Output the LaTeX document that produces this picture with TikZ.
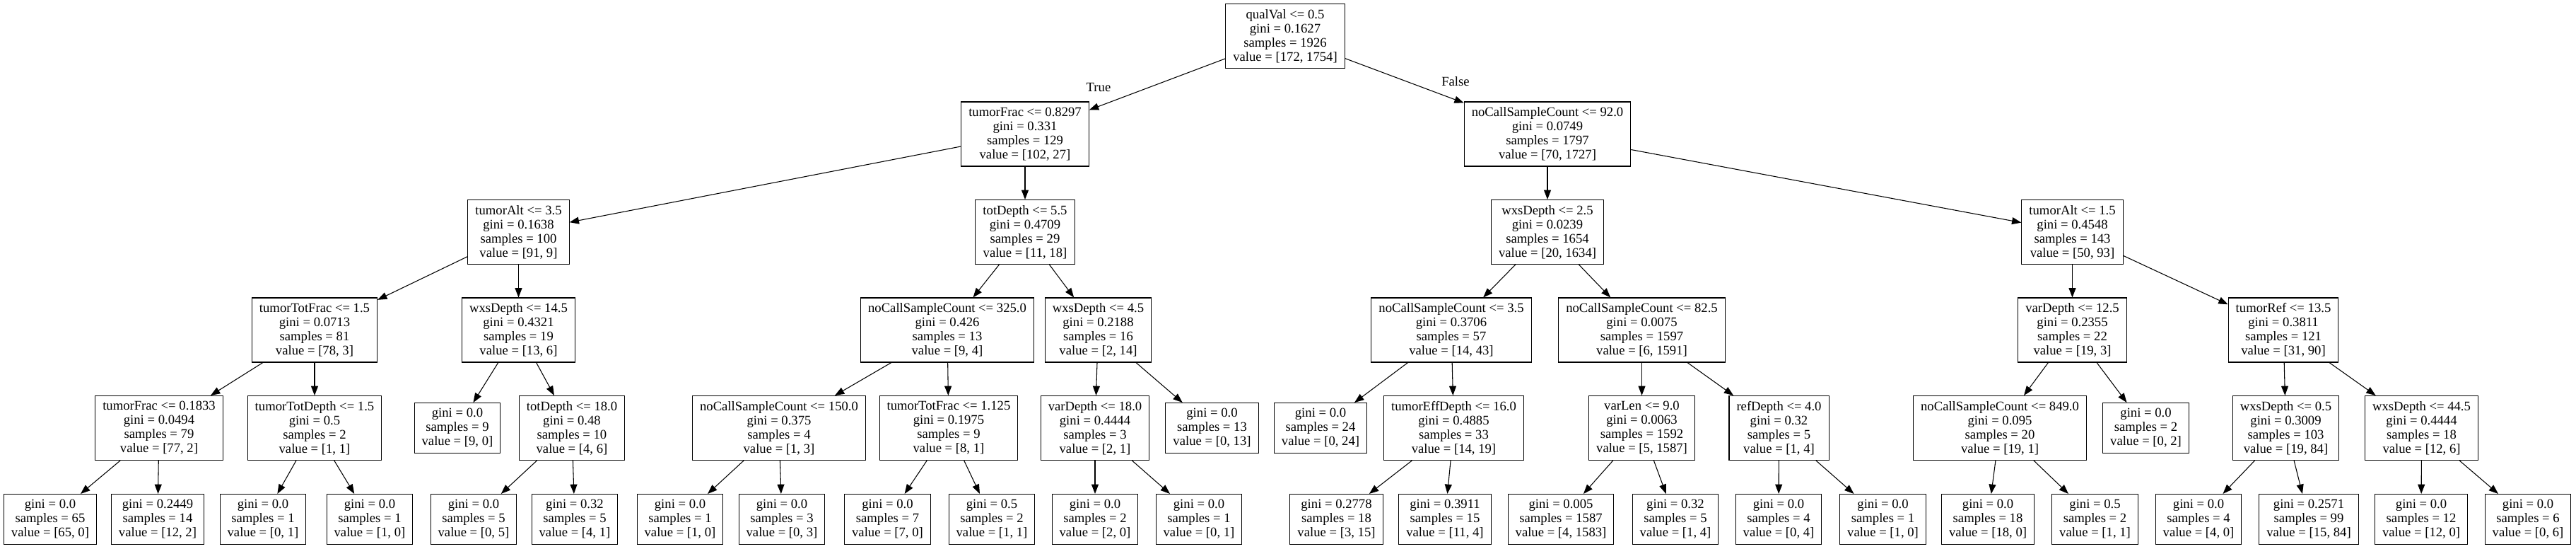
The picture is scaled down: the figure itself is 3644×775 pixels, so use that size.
\documentclass[tikz,border=0pt]{standalone}
\usepackage{fontspec}
\setmainfont{Liberation Serif}
\usetikzlibrary{arrows.meta}

\begin{document}
\begin{tikzpicture}[x=0.75pt, y=-0.75pt,
		split/.style={draw, line width=0.8pt, align=center, inner xsep=7.9pt, inner ysep=2pt, minimum height=68.25pt, font=\fontsize{14pt}{15pt}\selectfont},
		leaf/.style={split, minimum height=53.25pt},
		lbl/.style={inner sep=0pt, font=\fontsize{14pt}{15pt}\selectfont},
		arr/.style={line width=0.8pt, -{Triangle[length=10pt, width=7.5pt]}}]
			\useasboundingbox (0, 0) rectangle (3644, 775);

			\draw (1818, 51) 	node[split] 	(root) 		{qualVal <= 0.5\\gini = 0.1627\\samples = 1926\\value = [172, 1754]};

			\draw (1450, 189.5) 	node[split] 	(tfrac) 	{tumorFrac <= 0.8297\\gini = 0.331\\samples = 129\\value = [102, 27]};
			\draw (2189, 189.5) 	node[split] 	(ncall92) 	{noCallSampleCount <= 92.0\\gini = 0.0749\\samples = 1797\\value = [70, 1727]};

			\draw (733.5, 328) 	node[split] 	(talt35) 	{tumorAlt <= 3.5\\gini = 0.1638\\samples = 100\\value = [91, 9]};
			\draw (1450, 328) 	node[split] 	(tdep55) 	{totDepth <= 5.5\\gini = 0.4709\\samples = 29\\value = [11, 18]};
			\draw (2189, 328) 	node[split] 	(wxs25) 	{wxsDepth <= 2.5\\gini = 0.0239\\samples = 1654\\value = [20, 1634]};
			\draw (2931.5, 328) 	node[split] 	(talt15) 	{tumorAlt <= 1.5\\gini = 0.4548\\samples = 143\\value = [50, 93]};

			\draw (445, 466.5) 	node[split] 	(ttfrac15) 	{tumorTotFrac <= 1.5\\gini = 0.0713\\samples = 81\\value = [78, 3]};
			\draw (733.5, 466.5) 	node[split] 	(wxs145) 	{wxsDepth <= 14.5\\gini = 0.4321\\samples = 19\\value = [13, 6]};
			\draw (1340, 466.5) 	node[split] 	(ncall325) 	{noCallSampleCount <= 325.0\\gini = 0.426\\samples = 13\\value = [9, 4]};
			\draw (1553.5, 466.5) 	node[split] 	(wxs45) 	{wxsDepth <= 4.5\\gini = 0.2188\\samples = 16\\value = [2, 14]};
			\draw (2053, 466.5) 	node[split] 	(ncall35) 	{noCallSampleCount <= 3.5\\gini = 0.3706\\samples = 57\\value = [14, 43]};
			\draw (2322.5, 466.5) 	node[split] 	(ncall825) 	{noCallSampleCount <= 82.5\\gini = 0.0075\\samples = 1597\\value = [6, 1591]};
			\draw (2931.5, 466.5) 	node[split] 	(vdep125) 	{varDepth <= 12.5\\gini = 0.2355\\samples = 22\\value = [19, 3]};
			\draw (3230, 466.5) 	node[split] 	(tref135) 	{tumorRef <= 13.5\\gini = 0.3811\\samples = 121\\value = [31, 90]};

			\draw (225, 605) 	node[split] 	(tfrac1833) 	{tumorFrac <= 0.1833\\gini = 0.0494\\samples = 79\\value = [77, 2]};
			\draw (445, 605) 	node[split] 	(ttdep15) 	{tumorTotDepth <= 1.5\\gini = 0.5\\samples = 2\\value = [1, 1]};
			\draw (647, 605) 	node[leaf] 	(leaf9) 	{gini = 0.0\\samples = 9\\value = [9, 0]};
			\draw (809, 605) 	node[split] 	(tdep18) 	{totDepth <= 18.0\\gini = 0.48\\samples = 10\\value = [4, 6]};
			\draw (1102, 605) 	node[split] 	(ncall150) 	{noCallSampleCount <= 150.0\\gini = 0.375\\samples = 4\\value = [1, 3]};
			\draw (1342, 605) 	node[split] 	(ttfrac1125) 	{tumorTotFrac <= 1.125\\gini = 0.1975\\samples = 9\\value = [8, 1]};
			\draw (1549, 605) 	node[split] 	(vdep18) 	{varDepth <= 18.0\\gini = 0.4444\\samples = 3\\value = [2, 1]};
			\draw (1714.5, 605) 	node[leaf] 	(leaf13) 	{gini = 0.0\\samples = 13\\value = [0, 13]};
			\draw (1868, 605) 	node[leaf] 	(leaf24) 	{gini = 0.0\\samples = 24\\value = [0, 24]};
			\draw (2056.5, 605) 	node[split] 	(tedep16) 	{tumorEffDepth <= 16.0\\gini = 0.4885\\samples = 33\\value = [14, 19]};
			\draw (2322.5, 605) 	node[split] 	(vlen9) 	{varLen <= 9.0\\gini = 0.0063\\samples = 1592\\value = [5, 1587]};
			\draw (2516.5, 605) 	node[split] 	(rdep4) 	{refDepth <= 4.0\\gini = 0.32\\samples = 5\\value = [1, 4]};
			\draw (2829, 605) 	node[split] 	(ncall849) 	{noCallSampleCount <= 849.0\\gini = 0.095\\samples = 20\\value = [19, 1]};
			\draw (3035.5, 605) 	node[leaf] 	(leaf2) 	{gini = 0.0\\samples = 2\\value = [0, 2]};
			\draw (3233.5, 605) 	node[split] 	(wxs05) 	{wxsDepth <= 0.5\\gini = 0.3009\\samples = 103\\value = [19, 84]};
			\draw (3425.5, 605) 	node[split] 	(wxs445) 	{wxsDepth <= 44.5\\gini = 0.4444\\samples = 18\\value = [12, 6]};

			\draw (71, 734) 	node[leaf] 	(lf1) 		{gini = 0.0\\samples = 65\\value = [65, 0]};
			\draw (223, 734) 	node[leaf] 	(lf2) 		{gini = 0.2449\\samples = 14\\value = [12, 2]};
			\draw (372, 734) 	node[leaf] 	(lf3) 		{gini = 0.0\\samples = 1\\value = [0, 1]};
			\draw (523, 734) 	node[leaf] 	(lf4) 		{gini = 0.0\\samples = 1\\value = [1, 0]};
			\draw (670, 734) 	node[leaf] 	(lf5) 		{gini = 0.0\\samples = 5\\value = [0, 5]};
			\draw (813, 734) 	node[leaf] 	(lf6) 		{gini = 0.32\\samples = 5\\value = [4, 1]};
			\draw (962, 734) 	node[leaf] 	(lf7) 		{gini = 0.0\\samples = 1\\value = [1, 0]};
			\draw (1106, 734) 	node[leaf] 	(lf8) 		{gini = 0.0\\samples = 3\\value = [0, 3]};
			\draw (1255.5, 734) 	node[leaf] 	(lf9) 		{gini = 0.0\\samples = 7\\value = [7, 0]};
			\draw (1403, 734) 	node[leaf] 	(lf10) 		{gini = 0.5\\samples = 2\\value = [1, 1]};
			\draw (1549, 734) 	node[leaf] 	(lf11) 		{gini = 0.0\\samples = 2\\value = [2, 0]};
			\draw (1696, 734) 	node[leaf] 	(lf12) 		{gini = 0.0\\samples = 1\\value = [0, 1]};
			\draw (1890.5, 734) 	node[leaf] 	(lf13) 		{gini = 0.2778\\samples = 18\\value = [3, 15]};
			\draw (2044, 734) 	node[leaf] 	(lf14) 		{gini = 0.3911\\samples = 15\\value = [11, 4]};
			\draw (2208, 734) 	node[leaf] 	(lf15) 		{gini = 0.005\\samples = 1587\\value = [4, 1583]};
			\draw (2370, 734) 	node[leaf] 	(lf16) 		{gini = 0.32\\samples = 5\\value = [1, 4]};
			\draw (2516, 734) 	node[leaf] 	(lf17) 		{gini = 0.0\\samples = 4\\value = [0, 4]};
			\draw (2663.5, 734) 	node[leaf] 	(lf18) 		{gini = 0.0\\samples = 1\\value = [1, 0]};
			\draw (2812, 734) 	node[leaf] 	(lf19) 		{gini = 0.0\\samples = 18\\value = [18, 0]};
			\draw (2963.5, 734) 	node[leaf] 	(lf20) 		{gini = 0.5\\samples = 2\\value = [1, 1]};
			\draw (3110, 734) 	node[leaf] 	(lf21) 		{gini = 0.0\\samples = 4\\value = [4, 0]};
			\draw (3266, 734) 	node[leaf] 	(lf22) 		{gini = 0.2571\\samples = 99\\value = [15, 84]};
			\draw (3425, 734) 	node[leaf] 	(lf23) 		{gini = 0.0\\samples = 12\\value = [12, 0]};
			\draw (3576, 734) 	node[leaf] 	(lf24) 		{gini = 0.0\\samples = 6\\value = [0, 6]};

			\draw (1554, 123) 	node[lbl] 	(lbltrue) 	{True};
			\draw (2059, 115) 	node[lbl] 	(lblfalse) 	{False};

			\draw[arr] (root) -- (tfrac);
			\draw[arr] (root) -- (ncall92);
			\draw[arr] (tfrac) -- (talt35);
			\draw[arr] (tfrac) -- (tdep55);
			\draw[arr] (ncall92) -- (wxs25);
			\draw[arr] (ncall92) -- (talt15);
			\draw[arr] (talt35) -- (ttfrac15);
			\draw[arr] (talt35) -- (wxs145);
			\draw[arr] (tdep55) -- (ncall325);
			\draw[arr] (tdep55) -- (wxs45);
			\draw[arr] (wxs25) -- (ncall35);
			\draw[arr] (wxs25) -- (ncall825);
			\draw[arr] (talt15) -- (vdep125);
			\draw[arr] (talt15) -- (tref135);
			\draw[arr] (ttfrac15) -- (tfrac1833);
			\draw[arr] (ttfrac15) -- (ttdep15);
			\draw[arr] (wxs145) -- (leaf9);
			\draw[arr] (wxs145) -- (tdep18);
			\draw[arr] (ncall325) -- (ncall150);
			\draw[arr] (ncall325) -- (ttfrac1125);
			\draw[arr] (wxs45) -- (vdep18);
			\draw[arr] (wxs45) -- (leaf13);
			\draw[arr] (ncall35) -- (leaf24);
			\draw[arr] (ncall35) -- (tedep16);
			\draw[arr] (ncall825) -- (vlen9);
			\draw[arr] (ncall825) -- (rdep4);
			\draw[arr] (vdep125) -- (ncall849);
			\draw[arr] (vdep125) -- (leaf2);
			\draw[arr] (tref135) -- (wxs05);
			\draw[arr] (tref135) -- (wxs445);
			\draw[arr] (tfrac1833) -- (lf1);
			\draw[arr] (tfrac1833) -- (lf2);
			\draw[arr] (ttdep15) -- (lf3);
			\draw[arr] (ttdep15) -- (lf4);
			\draw[arr] (tdep18) -- (lf5);
			\draw[arr] (tdep18) -- (lf6);
			\draw[arr] (ncall150) -- (lf7);
			\draw[arr] (ncall150) -- (lf8);
			\draw[arr] (ttfrac1125) -- (lf9);
			\draw[arr] (ttfrac1125) -- (lf10);
			\draw[arr] (vdep18) -- (lf11);
			\draw[arr] (vdep18) -- (lf12);
			\draw[arr] (tedep16) -- (lf13);
			\draw[arr] (tedep16) -- (lf14);
			\draw[arr] (vlen9) -- (lf15);
			\draw[arr] (vlen9) -- (lf16);
			\draw[arr] (rdep4) -- (lf17);
			\draw[arr] (rdep4) -- (lf18);
			\draw[arr] (ncall849) -- (lf19);
			\draw[arr] (ncall849) -- (lf20);
			\draw[arr] (wxs05) -- (lf21);
			\draw[arr] (wxs05) -- (lf22);
			\draw[arr] (wxs445) -- (lf23);
			\draw[arr] (wxs445) -- (lf24);
		\end{tikzpicture}
\end{document}
